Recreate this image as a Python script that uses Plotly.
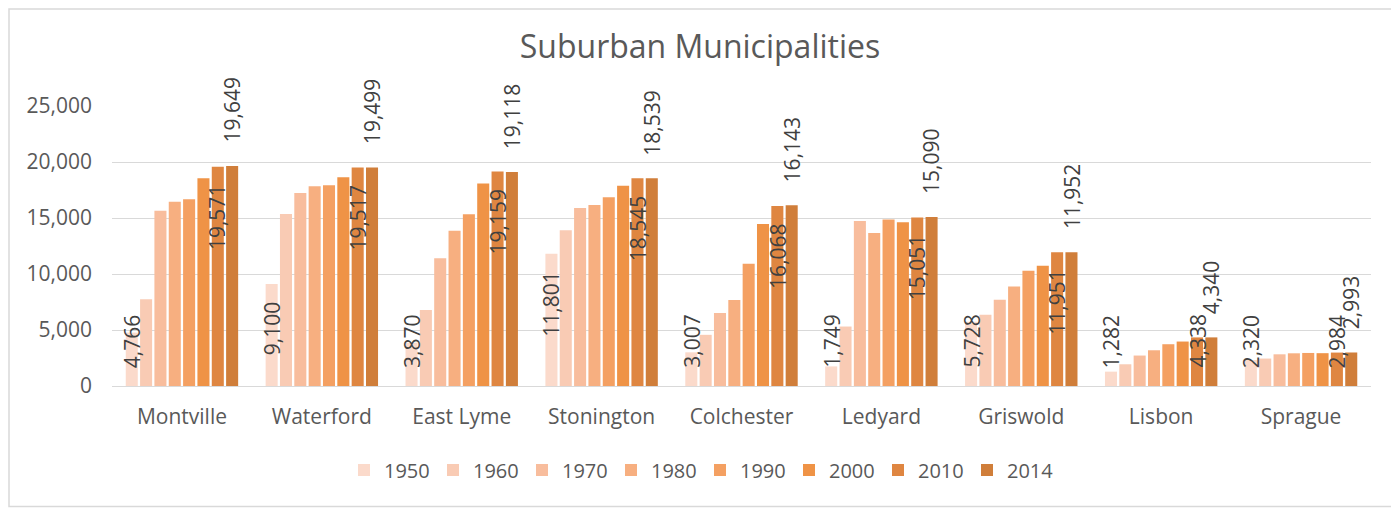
import plotly.graph_objects as go

# ---------------- data ----------------
municipalities = ["Montville", "Waterford", "East Lyme", "Stonington", "Colchester",
                  "Ledyard", "Griswold", "Lisbon", "Sprague"]
years = ["1950", "1960", "1970", "1980", "1990", "2000", "2010", "2014"]
pop_1950 = [4766, 9100, 3870, 11801, 3007, 1749, 5728, 1282, 2320]
pop_1960 = [7740, 15360, 6790, 13900, 4570, 5310, 6360, 1940, 2450]
pop_1970 = [15650, 17230, 11400, 15900, 6510, 14740, 7700, 2720, 2830]
pop_1980 = [16460, 17830, 13870, 16170, 7670, 13660, 8890, 3190, 2920]
pop_1990 = [16670, 17920, 15330, 16850, 10920, 14860, 10290, 3730, 2950]
pop_2000 = [18540, 18630, 18080, 17870, 14470, 14620, 10740, 3970, 2930]
pop_2010 = [19571, 19517, 19159, 18545, 16068, 15051, 11951, 4338, 2984]
pop_2014 = [19649, 19499, 19118, 18539, 16143, 15090, 11952, 4340, 2993]
y_ticks = [0, 5000, 10000, 15000, 20000, 25000]

series = [pop_1950, pop_1960, pop_1970, pop_1980, pop_1990, pop_2000, pop_2010, pop_2014]
colors = ["#FBDACB", "#F9CBB4", "#F8BD9D", "#F7AF80", "#F4A062", "#EF9346", "#DF8641", "#D07E3A"]
# label style per series: None, "inside_end", "outside_end"
label_mode = ["inside_end", None, None, None, None, None, "inside_end", "outside_end"]

# ---------------- layout constants (page pixels) ----------------
W, H = 1399, 508
OFF = 8                      # default page body margin
ML, MR, MT, MB = 112, 28, 106, 122
BARGAP = 0.18
BARGROUPGAP = 0.16
FONT = "Open Sans"
TXT = "#595959"
LBL = "#404040"
GRID = "#D9D9D9"
FW, FH = W - OFF, H - OFF

plot_w = W - ML - MR
plot_h = H - MT - MB
cat_w = plot_w / len(municipalities)
pitch = cat_w * (1 - BARGAP) / len(series)
px_per_unit = plot_h / (y_ticks[-1] - y_ticks[0])

fig = go.Figure()
for yr, vals, col in zip(years, series, colors):
    fig.add_trace(go.Bar(name=yr, x=municipalities, y=vals,
                         marker=dict(color=col, line=dict(width=0)),
                         hoverinfo="x+y+name"))

LBL_SIZE = 21
PAD_IN = 16      # inside-end gap from bar top (px)
PAD_OUT = 21     # outside-end gap above bar (px)
PAD_BASE = 16    # minimum gap above baseline (px)


def est_len(s):
    return sum((0.26 if ch == "," else 0.572) * LBL_SIZE for ch in s)


annotations = []
for i, (vals, mode) in enumerate(zip(series, label_mode)):
    if mode is None:
        continue
    xs = (i - (len(series) - 1) / 2) * pitch
    for m, v in zip(municipalities, vals):
        txt = f"{v:,}"
        common = dict(x=m, xref="x", yref="y", xshift=xs, text=txt, textangle=-90,
                      showarrow=False, font=dict(family=FONT, size=LBL_SIZE, color=LBL),
                      xanchor="center")
        if mode == "outside_end":
            annotations.append(dict(y=v, yanchor="bottom", yshift=PAD_OUT, **common))
        else:
            bar_px = v * px_per_unit
            if bar_px < PAD_IN + est_len(txt) + PAD_BASE:
                annotations.append(dict(y=0, yanchor="bottom", yshift=PAD_BASE, **common))
            else:
                annotations.append(dict(y=v, yanchor="top", yshift=-PAD_IN, **common))

# chart frame: left, top and bottom edges (right edge is off-page in the reference)
bx0 = (OFF + 1 - ML) / plot_w
bx1 = (W + 20 - ML) / plot_w
by0 = -(MB - 1.5) / plot_h
by1 = (H - MB - OFF - 1) / plot_h
frame_path = f"M {bx1},{by1} L {bx0},{by1} L {bx0},{by0} L {bx1},{by0}"

fig.update_layout(
    width=FW, height=FH,
    margin=dict(l=ML - OFF, r=MR, t=MT - OFF, b=MB, autoexpand=False),
    paper_bgcolor="white", plot_bgcolor="white",
    barmode="group", bargap=BARGAP, bargroupgap=BARGROUPGAP,
    title=dict(text="Suburban Municipalities", x=(700 - OFF) / FW, xref="container",
               xanchor="center", y=1 - (47 - OFF) / FH, yref="container", yanchor="middle",
               font=dict(family=FONT, size=32, color=TXT)),
    font=dict(family=FONT, size=20, color=TXT),
    xaxis=dict(showline=True, linecolor=GRID, linewidth=1, ticks="", showgrid=False,
               ticklabelstandoff=12,
               tickfont=dict(family=FONT, size=21, color=TXT)),
    yaxis=dict(range=[y_ticks[0], y_ticks[-1]], tickvals=y_ticks, tickformat=",",
               showgrid=True, gridcolor=GRID, gridwidth=1, zeroline=False, showline=False,
               ticks="", ticklabelstandoff=19,
               tickfont=dict(family=FONT, size=21, color=TXT)),
    legend=dict(orientation="h", x=(700 - ML) / plot_w, xanchor="center",
                y=-(470 - (H - MB)) / plot_h, yanchor="middle",
                entrywidth=44, entrywidthmode="pixels",
                font=dict(family=FONT, size=20, color=TXT), itemclick=False,
                traceorder="normal"),
    annotations=annotations,
    shapes=[dict(type="path", xref="paper", yref="paper", path=frame_path,
                 line=dict(color=GRID, width=1.5), layer="below")],
    showlegend=True,
)

fig.write_html("out.html")
